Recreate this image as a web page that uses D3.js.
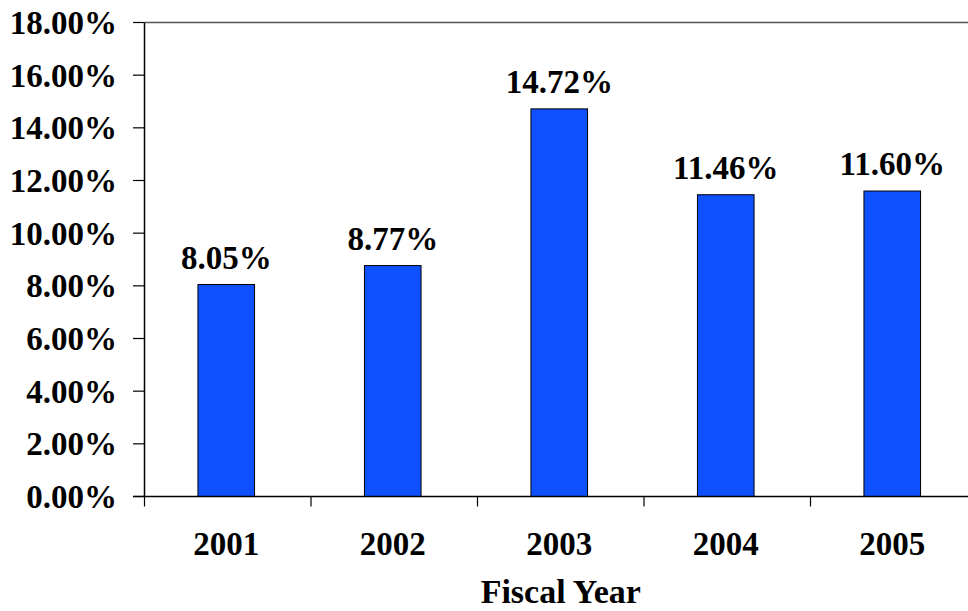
<!DOCTYPE html>
<html><head><meta charset="utf-8">
<script src="https://cdn.jsdelivr.net/npm/d3@7"></script>
<style>body{margin:0;background:#fff}svg{display:block}text{font-family:"Liberation Serif","Times New Roman",serif;font-weight:bold;fill:#000}</style>
</head><body>
<svg id="c" width="968" height="611"></svg>
<script>
const years = ["2001","2002","2003","2004","2005"];
const values = [8.05, 8.77, 14.72, 11.46, 11.60];
const yTicks = [0,2,4,6,8,10,12,14,16,18];
const xTitle = "Fiscal Year";

const svg = d3.select("#c");
const x0 = 144.5, x1 = 977, yB = 496.5, yT = 22.5;
const x = d3.scaleBand().domain(years).range([x0, x1]).padding(0);
const y = d3.scaleLinear().domain([0, 18]).range([yB, yT]);
const fs = 33;

// top gridline at max
svg.append("line").attr("x1", x0).attr("x2", 968).attr("y1", y(18)).attr("y2", y(18))
  .attr("stroke", "#555").attr("stroke-width", 1.5);

// bars
const bw = x.bandwidth() * 0.34;
svg.selectAll("rect.bar").data(values).join("rect").attr("class","bar")
  .attr("x", (d,i) => x(years[i]) + x.bandwidth()/2 - bw/2 - 1.5)
  .attr("width", bw)
  .attr("y", d => y(d))
  .attr("height", d => yB - y(d))
  .attr("fill", "#0f50fd").attr("stroke", "#000").attr("stroke-width", 1);

// value labels
svg.selectAll("text.val").data(values).join("text").attr("class","val")
  .attr("x", (d,i) => x(years[i]) + x.bandwidth()/2 - 1.5)
  .attr("y", d => y(d) - 16)
  .attr("text-anchor","middle").attr("font-size", fs)
  .text(d => d.toFixed(2) + "%");

// y axis
svg.append("line").attr("x1", x0).attr("x2", x0).attr("y1", yT).attr("y2", yB).attr("stroke","#000").attr("stroke-width",1.5);
svg.selectAll("line.yt").data(yTicks).join("line").attr("class","yt")
  .attr("x1", x0-11.5).attr("x2", x0).attr("y1", d=>y(d)).attr("y2", d=>y(d)).attr("stroke","#000").attr("stroke-width",1.2);
svg.selectAll("text.yl").data(yTicks).join("text").attr("class","yl")
  .attr("x", 117).attr("y", d => y(d) + 11.5)
  .attr("text-anchor","end").attr("font-size", fs)
  .text(d => d.toFixed(2) + "%");

// x axis
svg.append("line").attr("x1", x0-11.5).attr("x2", 968).attr("y1", yB).attr("y2", yB).attr("stroke","#000").attr("stroke-width",1.5);
const bounds = years.map(yr => x(yr)).concat([x1]);
svg.selectAll("line.xt").data(bounds).join("line").attr("class","xt")
  .attr("x1", d=>d).attr("x2", d=>d).attr("y1", yB).attr("y2", yB+10).attr("stroke","#000").attr("stroke-width",1.2);
svg.selectAll("text.xl").data(years).join("text").attr("class","xl")
  .attr("x", yr => x(yr) + x.bandwidth()/2 - 1.5).attr("y", 555)
  .attr("text-anchor","middle").attr("font-size", fs)
  .text(d => d);

svg.append("text").attr("x", (x0 + x1)/2).attr("y", 603).attr("text-anchor","middle").attr("font-size", 34).text(xTitle);
</script>
</body></html>
